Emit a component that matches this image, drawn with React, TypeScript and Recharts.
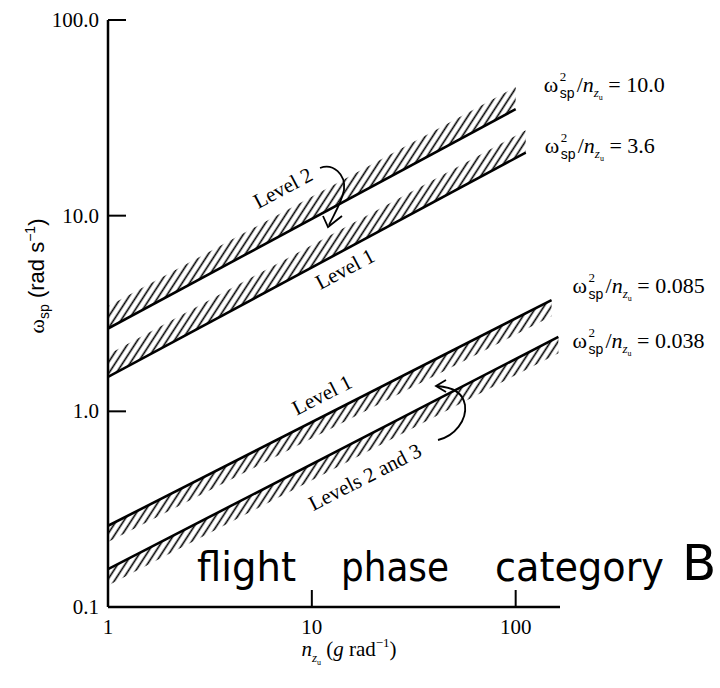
import { ComposedChart, Line, Area, XAxis, YAxis } from "recharts";

// w_sp^2 / n_zu boundaries (flight phase category B)
const bandRatios = ["10.0", "3.6", "0.085", "0.038"];
const nzuStart = [1, 1, 1, 1];
const nzuEnd = [100, 112, 150, 162];
const wspStart = [2.65, 1.5, 0.26, 0.156];
const wspEnd = [35, 21, 3.7, 2.4];
const hatchAbove = [true, true, false, false];

const xTicks = [1, 10, 100];
const yTicks = [0.1, 1, 10, 100];
const yTickLabels = ["0.1", "1.0", "10.0", "100.0"];

// styling
const HATCH_UP = 1.3;
const HATCH_DOWN = 1.21;
const labelOffsets = [
  [28, -17],
  [19, 0],
  [21, -7],
  [14, 11],
];
const SERIF = "'Liberation Serif', 'Times New Roman', serif";
const SANS = "'Liberation Sans', Arial, sans-serif";

const bands = bandRatios.map((ratio, i) => ({
  ratio,
  above: hatchAbove[i],
  data: [
    { n: nzuStart[i], w: wspStart[i] },
    { n: nzuEnd[i], w: wspEnd[i] },
  ],
}));

function YTick(props: any) {
  const { x, y, payload } = props;
  const v = payload.value;
  const label = yTickLabels[yTicks.indexOf(v)];
  return (
    <g>
      {v !== 0.1 && <line x1={x} x2={x + 18} y1={y} y2={y} stroke="#000" strokeWidth={2} />}
      <text x={x - 9} y={y} dy={7} textAnchor="end" fontFamily={SERIF} fontSize={21} fill="#000">
        {label}
      </text>
    </g>
  );
}

function XTick(props: any) {
  const { x, y, payload } = props;
  const v = payload.value;
  return (
    <g>
      {v !== 1 && <line x1={x} x2={x} y1={y} y2={y - 17} stroke="#000" strokeWidth={2} />}
      <text x={x} y={y + 27} textAnchor="middle" fontFamily={SERIF} fontSize={21} fill="#000">
        {v}
      </text>
    </g>
  );
}

function makeEqLabel(i: number) {
  const last = bands[i].data.length - 1;
  return (props: any) => {
    const { x, y, index } = props;
    if (index !== last) return <g />;
    const x0 = x + labelOffsets[i][0];
    const y0 = y + labelOffsets[i][1];
    return (
      <g fill="#000">
        <text x={x0} y={y0} fontFamily={SERIF} fontSize={22}>ω</text>
        <text x={x0 + 16} y={y0 - 11} fontFamily={SERIF} fontSize={13}>2</text>
        <text x={x0 + 16} y={y0 + 6} fontFamily={SANS} fontSize={14}>sp</text>
        <text x={x0 + 33} y={y0} fontFamily={SERIF} fontSize={22}>
          <tspan>/</tspan>
          <tspan fontStyle="italic">n</tspan>
          <tspan fontSize={13} fontStyle="italic" dy={5}>z</tspan>
          <tspan fontSize={8} dy={3}>u</tspan>
          <tspan dy={-8}>{" = " + bands[i].ratio}</tspan>
        </text>
      </g>
    );
  };
}

function Annotations() {
  return (
    <g fill="#000" fontFamily={SERIF} fontSize={21}>
      <text x={283} y={195} textAnchor="middle" transform="rotate(-28 283 188)">Level 2</text>
      <path d="M 320 168 C 333 163, 346 174, 344 190 C 342 201, 336 211, 329 225" fill="none" stroke="#000" strokeWidth={1.8} />
      <path d="M 323 216 L 328 227 L 342 216" fill="none" stroke="#000" strokeWidth={1.8} />
      <text x={345} y={276} textAnchor="middle" transform="rotate(-28 345 269)">Level 1</text>
      <text x={322} y={402} textAnchor="middle" transform="rotate(-27 322 395)">Level 1</text>
      <text x={365} y={484} textAnchor="middle" transform="rotate(-27 365 477)">Levels 2 and 3</text>
      <path d="M 438 440 C 455 436, 467 420, 465 405 C 463 393, 452 387, 437 386" fill="none" stroke="#000" strokeWidth={1.8} />
      <path d="M 446 380 L 436 386 L 446 392" fill="none" stroke="#000" strokeWidth={1.8} />
      <g fontFamily="'DejaVu Sans', sans-serif" fontSize={40}>
        <text x={197} y={581} textLength={99} lengthAdjust="spacingAndGlyphs">flight</text>
        <text x={341} y={581} textLength={108} lengthAdjust="spacingAndGlyphs">phase</text>
        <text x={495} y={581} textLength={169} lengthAdjust="spacingAndGlyphs">category</text>
        <text x={682} y={580} fontSize={50}>B</text>
      </g>
    </g>
  );
}

export default function App() {
  return (
    <div style={{ position: "absolute", left: 0, top: 0, background: "#fff" }}>
      <ComposedChart width={720} height={688} margin={{ top: 20, right: 160, left: 0, bottom: 0 }}>
        <defs>
          <pattern id="hatch" patternUnits="userSpaceOnUse" width={6.2} height={10} patternTransform="rotate(33)">
            <line x1={3.1} y1={0} x2={3.1} y2={10} stroke="#000" strokeWidth={1.6} />
          </pattern>
        </defs>
        <XAxis
          dataKey="n"
          type="number"
          scale="log"
          domain={[1, 165]}
          allowDataOverflow
          ticks={xTicks}
          height={81}
          tickSize={0}
          tickMargin={0}
          tickLine={false}
          axisLine={{ stroke: "#000", strokeWidth: 2.5 }}
          tick={<XTick />}
          interval={0}
        />
        <YAxis
          type="number"
          scale="log"
          domain={[0.1, 100]}
          allowDataOverflow
          ticks={yTicks}
          width={108}
          tickSize={0}
          tickMargin={0}
          tickLine={false}
          axisLine={{ stroke: "#000", strokeWidth: 2.5 }}
          tick={<YTick />}
          interval={0}
          label={
            <text x={30} y={300} textAnchor="middle" transform="rotate(-90 30 300)" fontFamily={SANS} fontSize={22} fill="#000">
              <tspan fontFamily={SERIF}>ω</tspan>
              <tspan fontSize={14} dy={5}>sp</tspan>
              <tspan dy={-5}> (rad s</tspan>
              <tspan fontSize={14} dy={-9}>−1</tspan>
              <tspan dy={9}>)</tspan>
            </text>
          }
        />
        {bands.map((b, i) => (
          <Area
            key={"a" + i}
            data={b.data}
            dataKey={(d: any) => (b.above ? [d.w, d.w * HATCH_UP] : [d.w / HATCH_DOWN, d.w])}
            type="linear"
            stroke="none"
            fill="url(#hatch)"
            fillOpacity={1}
            isAnimationActive={false}
          />
        ))}
        {bands.map((b, i) => (
          <Line
            key={"l" + i}
            data={b.data}
            dataKey="w"
            type="linear"
            stroke="#000"
            strokeWidth={2.6}
            dot={false}
            label={makeEqLabel(i)}
            isAnimationActive={false}
          />
        ))}
        <text x={349} y={656} textAnchor="middle" fontFamily={SERIF} fontSize={21} fill="#000">
          <tspan fontStyle="italic">n</tspan>
          <tspan fontSize={13} fontStyle="italic" dy={6}>z</tspan>
          <tspan fontSize={8} dy={3}>u</tspan>
          <tspan dy={-9}> (</tspan>
          <tspan fontStyle="italic">g</tspan>
          <tspan> rad</tspan>
          <tspan fontSize={13} dy={-9}>−1</tspan>
          <tspan dy={9}>)</tspan>
        </text>
        <Annotations />
      </ComposedChart>
    </div>
  );
}
